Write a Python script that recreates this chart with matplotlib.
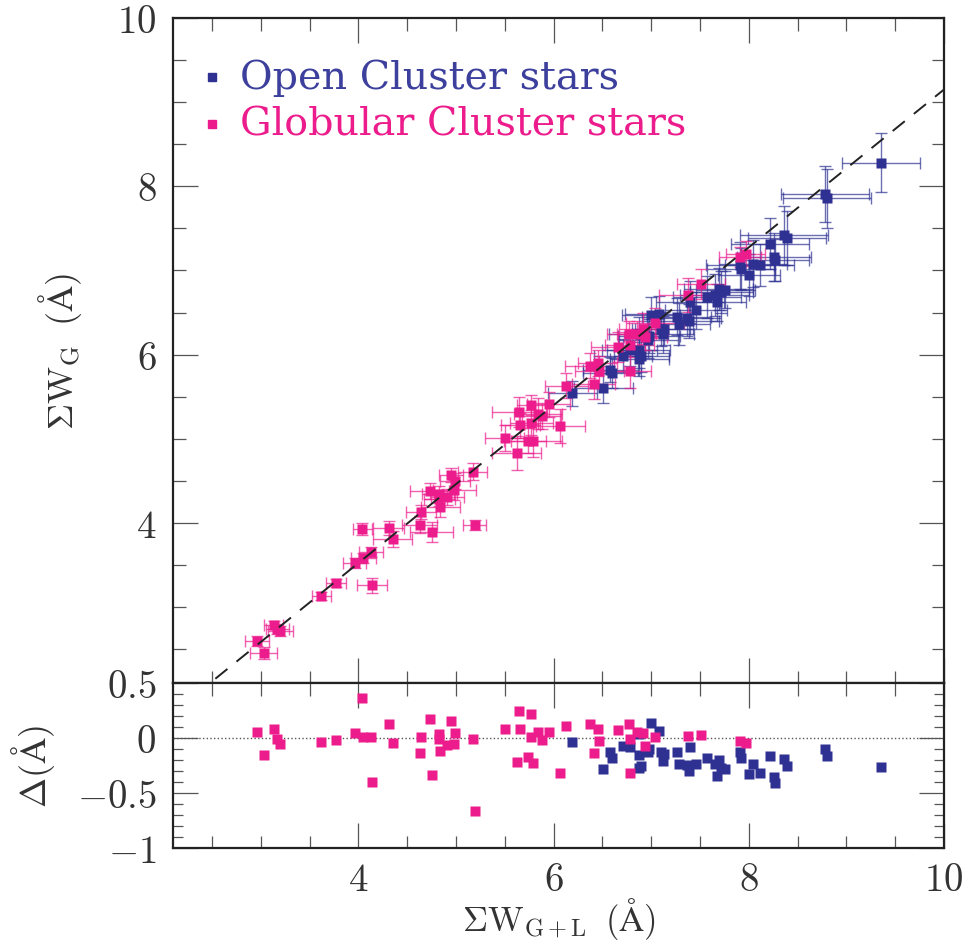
import numpy as np
import matplotlib
matplotlib.use('Agg')
import matplotlib.pyplot as plt
from matplotlib.ticker import MultipleLocator, FixedLocator, FixedFormatter

plt.rcParams['font.family'] = ['cmr10', 'DejaVu Serif']
plt.rcParams['mathtext.fontset'] = 'cm'
plt.rcParams['axes.unicode_minus'] = False

# globular cluster stars (pink)
gc_x = [2.96, 3.03, 3.13, 3.17, 3.20, 3.62, 3.77, 3.96, 4.04, 4.05,
        4.13, 4.14, 4.31, 4.35, 4.63, 4.64, 4.73, 4.75, 4.83, 4.83,
        4.84, 4.91, 4.95, 4.98, 4.99, 5.17, 5.19, 5.50, 5.62, 5.65,
        5.66, 5.74, 5.77, 5.77, 5.79, 5.84, 5.88, 5.95, 6.07, 6.13,
        6.37, 6.41, 6.45, 6.47, 6.66, 6.77, 6.78, 6.78, 6.85, 6.92,
        6.94, 7.04, 7.38, 7.51, 7.91, 7.97]
gc_y = [2.60, 2.46, 2.79, 2.74, 2.72, 3.13, 3.29, 3.53, 3.93, 3.58,
        3.66, 3.26, 3.94, 3.81, 3.98, 4.13, 4.38, 3.89, 4.34, 4.29,
        4.19, 4.31, 4.57, 4.39, 4.50, 4.61, 3.98, 5.01, 4.83, 5.32,
        5.16, 4.98, 5.40, 5.19, 4.98, 5.30, 5.27, 5.41, 5.15, 5.63,
        5.87, 5.65, 5.90, 5.81, 6.09, 6.25, 6.12, 5.81, 6.25, 6.31,
        6.21, 6.38, 6.71, 6.84, 7.16, 7.20]
gc_xerr = [0.12, 0.14, 0.10, 0.12, 0.13, 0.10, 0.10, 0.12, 0.10, 0.13,
           0.12, 0.15, 0.16, 0.20, 0.18, 0.15, 0.20, 0.22, 0.18, 0.16,
           0.20, 0.17, 0.12, 0.22, 0.15, 0.15, 0.12, 0.20, 0.25, 0.28,
           0.20, 0.18, 0.15, 0.22, 0.30, 0.25, 0.20, 0.22, 0.25, 0.22,
           0.25, 0.22, 0.20, 0.25, 0.28, 0.22, 0.25, 0.22, 0.20, 0.25,
           0.22, 0.30, 0.30, 0.25, 0.22, 0.20]
gc_yerr = [0.06, 0.07, 0.05, 0.06, 0.06, 0.05, 0.05, 0.06, 0.07, 0.06,
           0.06, 0.09, 0.08, 0.10, 0.10, 0.08, 0.10, 0.12, 0.10, 0.09,
           0.12, 0.10, 0.08, 0.12, 0.10, 0.10, 0.06, 0.15, 0.20, 0.18,
           0.15, 0.15, 0.12, 0.15, 0.20, 0.18, 0.15, 0.15, 0.20, 0.15,
           0.15, 0.18, 0.15, 0.18, 0.18, 0.15, 0.15, 0.20, 0.15, 0.18,
           0.15, 0.18, 0.20, 0.18, 0.12, 0.15]

# open cluster stars (blue)
oc_x = [6.19, 6.51, 6.58, 6.60, 6.71, 6.78, 6.87, 6.87, 6.88, 6.90,
        6.97, 6.98, 7.00, 7.08, 7.10, 7.12, 7.13, 7.26, 7.28, 7.37,
        7.39, 7.40, 7.46, 7.57, 7.65, 7.67, 7.69, 7.72, 7.76, 7.91,
        7.92, 8.00, 8.04, 8.11, 8.22, 8.26, 8.27, 8.36, 8.39, 8.78,
        8.80, 9.35]
oc_y = [5.54, 5.60, 5.82, 5.78, 5.99, 6.05, 6.25, 6.06, 5.95, 5.99,
        6.18, 6.22, 6.47, 6.48, 6.30, 6.24, 6.31, 6.45, 6.36, 6.44,
        6.40, 6.63, 6.53, 6.69, 6.71, 6.62, 6.78, 6.74, 6.77, 7.06,
        7.02, 6.95, 7.08, 7.06, 7.32, 7.16, 7.12, 7.42, 7.39, 7.91,
        7.86, 8.28]
oc_xerr = [0.25, 0.30, 0.28, 0.30, 0.30, 0.28, 0.30, 0.32, 0.30, 0.28,
           0.30, 0.32, 0.30, 0.35, 0.30, 0.32, 0.30, 0.35, 0.32, 0.35,
           0.30, 0.35, 0.32, 0.35, 0.35, 0.30, 0.35, 0.32, 0.30, 0.35,
           0.35, 0.32, 0.35, 0.35, 0.40, 0.38, 0.35, 0.45, 0.40, 0.45,
           0.45, 0.40]
oc_yerr = [0.15, 0.18, 0.15, 0.18, 0.20, 0.18, 0.20, 0.22, 0.20, 0.20,
           0.22, 0.20, 0.22, 0.22, 0.20, 0.22, 0.20, 0.22, 0.25, 0.22,
           0.20, 0.25, 0.22, 0.25, 0.25, 0.22, 0.25, 0.25, 0.22, 0.28,
           0.25, 0.25, 0.28, 0.25, 0.30, 0.28, 0.25, 0.35, 0.32, 0.33,
           0.35, 0.35]

# fitted relation (dashed line)
slope = 0.9375
intercept = -0.225

blue = '#2e3192'
pink = '#ec1c8c'
txt = '#333333'

gc_x = np.array(gc_x); gc_y = np.array(gc_y)
oc_x = np.array(oc_x); oc_y = np.array(oc_y)
gc_d = gc_y - (slope * gc_x + intercept)
oc_d = oc_y - (slope * oc_x + intercept)

fig = plt.figure(figsize=(9.67, 9.53), dpi=100)
ax = fig.add_axes([0.1789, 0.2823, 0.7973, 0.6978])
ax2 = fig.add_axes([0.1789, 0.1091, 0.7973, 0.1732])

xmin, xmax = 2.1, 10.0

# main panel
ax.errorbar(oc_x, oc_y, xerr=oc_xerr, yerr=oc_yerr, fmt='none', ecolor=blue,
            elinewidth=1.0, capsize=4, capthick=1.0, alpha=0.7, zorder=2)
ax.errorbar(gc_x, gc_y, xerr=gc_xerr, yerr=gc_yerr, fmt='none', ecolor=pink,
            elinewidth=1.0, capsize=4, capthick=1.0, alpha=0.7, zorder=2)
ax.plot(oc_x, oc_y, 's', color=blue, ms=7, mec='none', zorder=3)
ax.plot(gc_x, gc_y, 's', color=pink, ms=7, mec='none', zorder=4)
xl = np.array([xmin, xmax])
ax.plot(xl, slope * xl + intercept, '--', color='#222222', lw=1.4,
        dashes=(8, 6), zorder=5)

ax.set_xlim(xmin, xmax)
ax.set_ylim(2.1, 10.0)
ax.xaxis.set_major_locator(MultipleLocator(2))
ax.xaxis.set_minor_locator(MultipleLocator(0.5))
ax.yaxis.set_major_locator(FixedLocator([4, 6, 8, 10]))
ax.yaxis.set_major_formatter(FixedFormatter(['$4$', '$6$', '$8$', '$10$']))
ax.yaxis.set_minor_locator(MultipleLocator(0.5))
ax.set_xticklabels([])
ax.set_ylabel(r'$\Sigma \mathrm{W}_{\mathrm{G}}\;\;(\mathrm{\AA})$', fontsize=26,
              labelpad=24, color=txt)

# legend
ax.plot([0.05], [0.911], 's', color=blue, ms=6, transform=ax.transAxes)
ax.text(0.087, 0.911, 'Open Cluster stars', color='#3c3f9c', fontsize=28.5,
        transform=ax.transAxes, va='center', ha='left', family='DejaVu Serif')
ax.plot([0.05], [0.841], 's', color=pink, ms=6, transform=ax.transAxes)
ax.text(0.087, 0.841, 'Globular Cluster stars', color=pink, fontsize=28.5,
        transform=ax.transAxes, va='center', ha='left', family='DejaVu Serif')

# residual panel
ax2.plot(oc_x, oc_d, 's', color=blue, ms=7, mec='none', zorder=3)
ax2.plot(gc_x, gc_d, 's', color=pink, ms=7, mec='none', zorder=4)
ax2.axhline(0, color='#555555', lw=1.0, ls=':', zorder=1)
ax2.set_xlim(xmin, xmax)
ax2.set_ylim(-1.0, 0.5)
ax2.xaxis.set_major_locator(FixedLocator([4, 6, 8, 10]))
ax2.xaxis.set_major_formatter(FixedFormatter(['$4$', '$6$', '$8$', '$10$']))
ax2.xaxis.set_minor_locator(MultipleLocator(0.5))
ax2.yaxis.set_major_locator(FixedLocator([-1, -0.5, 0, 0.5]))
ax2.yaxis.set_major_formatter(FixedFormatter(['$-1$', '$-0.5$', '$0$', '$0.5$']))
ax2.yaxis.set_minor_locator(MultipleLocator(0.1))
ax2.set_xlabel(r'$\Sigma \mathrm{W}_{\mathrm{G+L}}\;\;(\mathrm{\AA})$', fontsize=25,
               labelpad=-2, color=txt)
ax2.set_ylabel(r'$\Delta(\mathrm{\AA})$', fontsize=26, labelpad=14, color=txt)

for a in (ax, ax2):
    for s in a.spines.values():
        s.set_linewidth(1.6)
        s.set_color('#222222')
    a.tick_params(which='both', direction='in', top=True, right=True,
                  color='#555555', width=0.9, labelsize=28, pad=12,
                  labelcolor=txt)
    a.tick_params(which='major', length=18)
    a.tick_params(which='minor', length=9)
ax2.tick_params(axis='x', which='both', pad=10)
ax2.tick_params(axis='y', which='minor', length=7)
ax2.tick_params(axis='y', which='major', length=18)

fig.savefig('out.png', dpi=100)
